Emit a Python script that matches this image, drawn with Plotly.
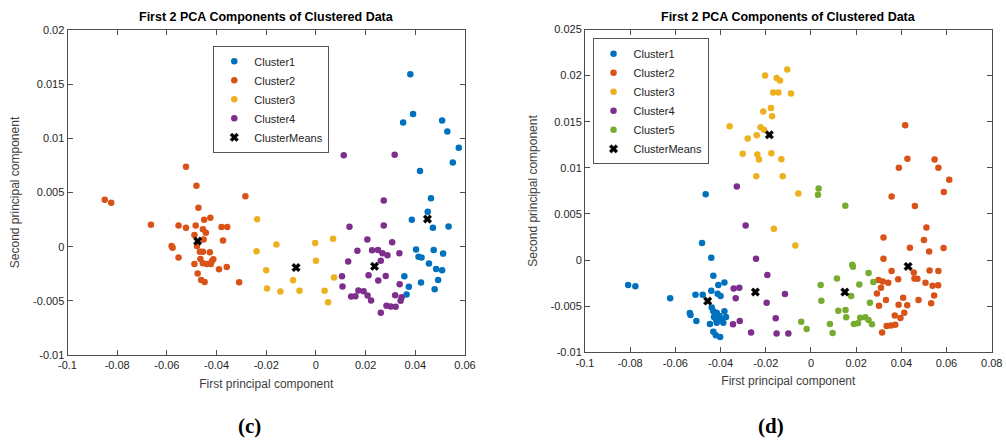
import plotly.graph_objects as go

# MATLAB default colour order
COLORS = ["#0072BD", "#D95319", "#EDB120", "#7E2F8E", "#77AC30"]

# ---- panel (c): 4 clusters ----
c1_x = [0.0463, 0.045, 0.0386, 0.0471, 0.0534, 0.0403, 0.0413, 0.0425, 0.0474, 0.0512,
        0.0455, 0.0484, 0.0508, 0.0356, 0.0423, 0.0492, 0.0374, 0.0365, 0.0478,
        0.038, 0.0391, 0.0351, 0.0508, 0.0529, 0.0575, 0.0551, 0.0419]
c1_y = [0.00448, 0.00322, 0.00248, 0.00175, 0.00187, -0.00025, -0.00092, -0.00101, -0.00031, -0.00064,
        -0.00156, -0.00206, -0.00218, -0.00273, -0.00331, -0.00307, -0.00371, -0.00442, -0.00393,
        0.01592, 0.01224, 0.01146, 0.01165, 0.01064, 0.00913, 0.00778, 0.00699]

c2_x = [-0.085, -0.0824, -0.0664, -0.0553, -0.0523, -0.0484, -0.0473, -0.045, -0.0425, -0.038,
        -0.0357, -0.0284, -0.0581, -0.0577, -0.0553, -0.0489, -0.0455, -0.0443, -0.0452, -0.0479,
        -0.0467, -0.0455, -0.0427, -0.0465, -0.0489, -0.0455, -0.0439, -0.0423, -0.0413, -0.0419,
        -0.039, -0.0359, -0.0374, -0.0476, -0.0462, -0.0448, -0.0309, -0.0523, -0.0481]
c2_y = [0.00433, 0.00405, 0.00202, 0.00196, 0.00175, 0.00196, 0.00359, 0.00248, 0.00267, 0.00181,
        0.00181, 0.00466, 0.00006, -0.00009, -0.00101, 0.00107, 0.0016, 0.00129, 0.00067, 0.00006,
        -0.00046, -0.00046, -0.00052, -0.00113, -0.0016, -0.00153, -0.0016, -0.0016, -0.00117, -0.00135,
        -0.00209, -0.00187, 0.00058, -0.00248, -0.00307, -0.00325, -0.00328, 0.00738, 0.00563]

c3_x = [-0.0237, -0.0239, -0.02, -0.0197, -0.0159, -0.0143, -0.0092, -0.0066, -0.0003, 0.0,
        0.0069, 0.0073, 0.0035, 0.0049]
c3_y = [0.00252, -0.00043, -0.00218, -0.00387, 0.00021, -0.00414, -0.0031, -0.00408, 0.00034, -0.00129,
        0.00074, -0.00285, -0.00408, -0.00512]

c4_x = [0.0273, 0.0135, 0.0273, 0.0207, 0.0307, 0.0167, 0.0226, 0.025, 0.0268, 0.0288,
        0.0336, 0.013, 0.0261, 0.0212, 0.0251, 0.0281, 0.0105, 0.0107, 0.0171, 0.0192,
        0.0142, 0.0159, 0.0208, 0.0222, 0.0337, 0.0319, 0.0345, 0.0341, 0.0284, 0.0301,
        0.0321, 0.0261, 0.0112, 0.0317]
c4_y = [0.00426, 0.00184, 0.00196, 0.00067, 0.0004, -0.00037, -0.00034, -0.00031, -0.00061, -0.0008,
        -0.00061, -0.00138, -0.00129, -0.00264, -0.00313, -0.0027, -0.00273, -0.00368, -0.00405, -0.00411,
        -0.0046, -0.00457, -0.00451, -0.00497, -0.00347, -0.00448, -0.00466, -0.005, -0.00546, -0.00552,
        -0.00555, -0.0061, 0.00843, 0.00849]

means_c_x = [0.0449, -0.0476, -0.008, 0.0236]
means_c_y = [0.00255, 0.00052, -0.00193, -0.00181]

# ---- panel (d): 5 clusters ----
d1_x = [-0.0466, -0.0482, -0.0441, -0.0809, -0.0777, -0.0623, -0.0511, -0.0479, -0.0432, -0.041,
        -0.0383, -0.0441, -0.0413, -0.04, -0.0536, -0.0533, -0.0507, -0.0447, -0.0439, -0.0432,
        -0.0417, -0.0383, -0.0376, -0.0405, -0.0395, -0.0417, -0.0388, -0.0405, -0.0432, -0.0421,
        -0.0402, -0.0429, -0.042]
d1_y = [0.00715, 0.00184, 0.00025, -0.00271, -0.00285, -0.00415, -0.00376, -0.00376, -0.0017, -0.00271,
        -0.00242, -0.00332, -0.00365, -0.0039, -0.00574, -0.00596, -0.00661, -0.00693, -0.00513, -0.00556,
        -0.0057, -0.00556, -0.00618, -0.00607, -0.0065, -0.00679, -0.00679, -0.00618, -0.00776, -0.00816,
        -0.00834, -0.00618, -0.00643]

d2_x = [0.0417, 0.0427, 0.0389, 0.0547, 0.0564, 0.0612, 0.0588, 0.0357, 0.046, 0.0511,
        0.0321, 0.05, 0.0438, 0.0523, 0.0587, 0.0321, 0.0357, 0.0455, 0.0525, 0.0564,
        0.0386, 0.0458, 0.0471, 0.0299, 0.0318, 0.0342, 0.031, 0.0507, 0.0538, 0.0563,
        0.0292, 0.0545, 0.0332, 0.0408, 0.0476, 0.0532, 0.0301, 0.0388, 0.0426, 0.0371,
        0.0413, 0.0396, 0.0335, 0.0354, 0.0373, 0.0315]
d2_y = [0.01463, 0.01098, 0.01, 0.01091, 0.01, 0.0087, 0.00737, 0.0069, 0.00585, 0.00354,
        0.00246, 0.00217, 0.00134, 0.00094, 0.0013, 0.00014, -0.00119, -0.00134, -0.00112, -0.00119,
        -0.00209, -0.00199, -0.00202, -0.00217, -0.00231, -0.00246, -0.003, -0.00246, -0.00278, -0.00274,
        -0.00361, -0.00383, -0.00433, -0.00408, -0.00433, -0.00469, -0.00495, -0.00484, -0.00491, -0.006,
        -0.00571, -0.00628, -0.00715, -0.00708, -0.00701, -0.00784]

d3_x = [-0.036, -0.028, -0.024, -0.0223, -0.0208, -0.0211, -0.0177, -0.0172, -0.0203, -0.0152,
        -0.0137, -0.0105, -0.0167, -0.0144, -0.0302, -0.0237, -0.023, -0.0175, -0.0131, -0.0242,
        -0.0125, -0.0088, -0.0164, -0.0056, -0.0069]
d3_y = [0.01452, 0.01318, 0.01354, 0.01441, 0.01412, 0.01611, 0.0165, 0.0156, 0.02001, 0.01975,
        0.01947, 0.02066, 0.01817, 0.01817, 0.01152, 0.01145, 0.01091, 0.01159, 0.01094, 0.0091,
        0.0091, 0.01806, 0.0034, 0.00722, 0.00159]

d4_x = [-0.0289, -0.0243, -0.0193, -0.0342, -0.0317, -0.0333, -0.0196, -0.0115, -0.0156, -0.0315,
        -0.0345, -0.0265, -0.0152, -0.01, -0.0328]
d4_y = [0.00376, 0.00014, -0.00163, -0.00307, -0.003, -0.00415, -0.00462, -0.00368, -0.00632, -0.00661,
        -0.00697, -0.00784, -0.00795, -0.00795, 0.00798]

d5_x = [0.0034, 0.0031, 0.0152, 0.0183, 0.0186, 0.0255, 0.0115, 0.0043, 0.0214, 0.0276,
        0.0178, 0.0046, 0.0261, 0.0121, 0.0153, 0.0156, 0.0218, 0.0241, 0.0255, 0.019,
        0.0208, 0.027, 0.0084, 0.0096, -0.0043, -0.0019]
d5_y = [0.00776, 0.00708, 0.00589, -0.00051, -0.00072, -0.00141, -0.00199, -0.00271, -0.00264, -0.00238,
        -0.0039, -0.00441, -0.00462, -0.00549, -0.00542, -0.00621, -0.00625, -0.00621, -0.0065, -0.00693,
        -0.00686, -0.00697, -0.00693, -0.00791, -0.00668, -0.00748]

means_d_x = [-0.0457, 0.043, -0.0184, -0.0246, 0.015]
means_d_y = [-0.00444, -0.00069, 0.01358, -0.00347, -0.00347]

x_ticks_c = [-0.1, -0.08, -0.06, -0.04, -0.02, 0, 0.02, 0.04, 0.06]
x_ticks_d = [-0.1, -0.08, -0.06, -0.04, -0.02, 0, 0.02, 0.04, 0.06, 0.08]
y_ticks_c = [-0.01, -0.005, 0, 0.005, 0.01, 0.015, 0.02]
y_ticks_d = [-0.01, -0.005, 0, 0.005, 0.01, 0.015, 0.02, 0.025]


def lbl(v):
    return "0" if v == 0 else ("%g" % v)


FONT = "Liberation Sans, Arial, sans-serif"
fig = go.Figure()

panel_c = [("Cluster1", c1_x, c1_y), ("Cluster2", c2_x, c2_y),
           ("Cluster3", c3_x, c3_y), ("Cluster4", c4_x, c4_y)]
for i, (name, xs, ys) in enumerate(panel_c):
    fig.add_trace(go.Scatter(x=xs, y=ys, mode="markers", name=name,
                             marker=dict(color=COLORS[i], size=6.5),
                             xaxis="x", yaxis="y", legend="legend"))
fig.add_trace(go.Scatter(x=means_c_x, y=means_c_y, mode="markers", name="ClusterMeans",
                         marker=dict(color="black", symbol="x", size=7.5,
                                     line=dict(width=0.5, color="black")),
                         xaxis="x", yaxis="y", legend="legend"))

panel_d = [("Cluster1", d1_x, d1_y), ("Cluster2", d2_x, d2_y), ("Cluster3", d3_x, d3_y),
           ("Cluster4", d4_x, d4_y), ("Cluster5", d5_x, d5_y)]
for i, (name, xs, ys) in enumerate(panel_d):
    fig.add_trace(go.Scatter(x=xs, y=ys, mode="markers", name=name,
                             marker=dict(color=COLORS[i], size=6.5),
                             xaxis="x2", yaxis="y2", legend="legend2"))
fig.add_trace(go.Scatter(x=means_d_x, y=means_d_y, mode="markers", name="ClusterMeans",
                         marker=dict(color="black", symbol="x", size=7.5,
                                     line=dict(width=0.5, color="black")),
                         xaxis="x2", yaxis="y2", legend="legend2"))

axis_common = dict(showline=True, mirror="ticks", linecolor="#4d4d4d", linewidth=1,
                   ticks="inside", ticklen=5, tickcolor="#4d4d4d", showgrid=False,
                   zeroline=False, automargin=False,
                   tickfont=dict(family=FONT, size=11, color="#262626"))
title_font = dict(family=FONT, size=12, color="#404040")

fig.update_layout(
    width=1006, height=441,
    margin=dict(l=0, r=0, t=0, b=0, autoexpand=False),
    paper_bgcolor="white", plot_bgcolor="white",
    font=dict(family=FONT, color="#262626"),
    xaxis=dict(domain=[0.0671, 0.4622], range=[-0.1, 0.06], anchor="y",
               tickvals=x_ticks_c, ticktext=[lbl(v) for v in x_ticks_c],
               title=dict(text="First principal component", font=title_font, standoff=9),
               **axis_common),
    yaxis=dict(domain=[0.195, 0.932], range=[-0.01, 0.02], anchor="x",
               tickvals=y_ticks_c, ticktext=[lbl(v) for v in y_ticks_c],
               title=dict(text="Second principal component", font=title_font, standoff=10),
               **axis_common),
    xaxis2=dict(domain=[0.5815, 0.9858], range=[-0.1, 0.08], anchor="y2",
                tickvals=x_ticks_d, ticktext=[lbl(v) for v in x_ticks_d],
                title=dict(text="First principal component", font=title_font, standoff=9),
                **axis_common),
    yaxis2=dict(domain=[0.2011, 0.9331], range=[-0.01, 0.025], anchor="x2",
                tickvals=y_ticks_d, ticktext=[lbl(v) for v in y_ticks_d],
                title=dict(text="Second principal component", font=title_font, standoff=10),
                **axis_common),
    legend=dict(x=0.212, y=0.896, xanchor="left", yanchor="top",
                bordercolor="#555", borderwidth=1, bgcolor="white",
                font=dict(family=FONT, size=11, color="#262626"),
                tracegroupgap=0),
    legend2=dict(x=0.589, y=0.913, xanchor="left", yanchor="top",
                 bordercolor="#555", borderwidth=1, bgcolor="white",
                 font=dict(family=FONT, size=11, color="#262626"),
                 tracegroupgap=0),
    showlegend=True,
)

titles = [(0.5 * (0.0671 + 0.4622), "(c)"), (0.5 * (0.5815 + 0.9858), "(d)")]
for xc, tag in titles:
    fig.add_annotation(x=xc, y=1 - 17 / 441, xref="paper", yref="paper", showarrow=False,
                       xanchor="center", yanchor="middle",
                       text="<b>First 2 PCA Components of Clustered Data</b>",
                       font=dict(family=FONT, size=12.5, color="black"))
    fig.add_annotation(x=xc - 0.017, y=1 - 426 / 441, xref="paper", yref="paper", showarrow=False,
                       xanchor="center", yanchor="middle",
                       text="<b>%s</b>" % tag,
                       font=dict(family="Liberation Serif, Times New Roman, serif", size=21, color="black"))

# page body has a default 8px margin; drop it so the figure sits at the page corner
fig.write_html("out.html", config={"displayModeBar": False},
               post_script="document.body.style.margin='0';")
